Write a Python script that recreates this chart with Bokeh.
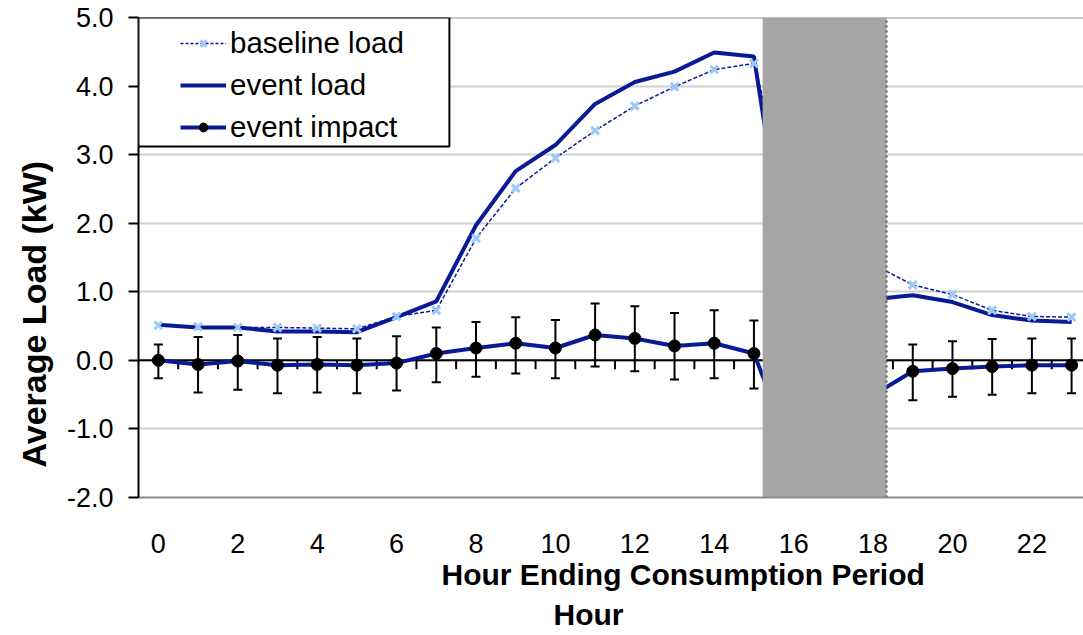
from bokeh.plotting import figure
from bokeh.models import (Range1d, FixedTicker, PrintfTickFormatter, Span, BoxAnnotation,
                          Legend, LegendItem, Title)
from bokeh.embed import file_html
from bokeh.resources import INLINE

# ---------------- data ----------------
hours = list(range(24))
baseline_load = [0.51, 0.49, 0.48, 0.48, 0.47, 0.46, 0.64, 0.73, 1.78, 2.51, 2.95, 3.35,
                 3.71, 3.99, 4.24, 4.33, 2.10, 1.60, 1.40, 1.10, 0.96, 0.73, 0.64, 0.63]
event_load = [0.52, 0.48, 0.48, 0.42, 0.42, 0.41, 0.63, 0.86, 1.97, 2.76, 3.14, 3.74,
              4.06, 4.21, 4.49, 4.43, 0.70, 0.80, 0.89, 0.95, 0.85, 0.66, 0.58, 0.56]
event_impact = [0.00, -0.06, -0.01, -0.07, -0.06, -0.07, -0.04, 0.10, 0.18, 0.25, 0.18, 0.37,
                0.32, 0.21, 0.25, 0.10, -1.40, -0.80, -0.51, -0.16, -0.12, -0.09, -0.07, -0.07]
impact_upper = [0.23, 0.34, 0.37, 0.32, 0.34, 0.32, 0.35, 0.48, 0.56, 0.63, 0.59, 0.83,
                0.79, 0.69, 0.73, 0.58, -1.00, -0.40, -0.10, 0.23, 0.28, 0.31, 0.32, 0.32]
impact_lower = [-0.26, -0.47, -0.43, -0.48, -0.47, -0.48, -0.44, -0.32, -0.24, -0.19, -0.26, -0.09,
                -0.16, -0.28, -0.26, -0.41, -1.80, -1.20, -0.92, -0.58, -0.53, -0.50, -0.48, -0.48]
x_tick_hours = list(range(0, 23, 2))
y_ticks = [-2, -1, 0, 1, 2, 3, 4, 5]
event_window = [15.22, 18.34]          # shaded event period (hours)
hour_boundaries = [h + 0.5 for h in hours[:-1]]

NAVY = "#0a1a96"
FONT = "Liberation Sans"
NAN = float("nan")

p = figure(width=1083, height=635, x_range=Range1d(-0.5, 23.3), y_range=Range1d(-2, 5),
           output_backend="svg", toolbar_location=None,
           min_border_left=138, min_border_right=0, min_border_top=17, min_border_bottom=138)
p.outline_line_color = None
p.xgrid.visible = False
p.ygrid.ticker = FixedTicker(ticks=y_ticks)
p.ygrid.grid_line_color = "#d0d0d0"
p.ygrid.grid_line_width = 2

ya = p.yaxis[0]
ya.ticker = FixedTicker(ticks=y_ticks)
ya.formatter = PrintfTickFormatter(format="%.1f")
ya.axis_line_color = "black"
ya.axis_line_width = 2
ya.major_tick_line_color = "black"
ya.major_tick_line_width = 2
ya.major_tick_out = 10
ya.major_tick_in = 0
ya.minor_tick_line_color = None
ya.major_label_text_font = FONT
ya.major_label_text_font_size = "27px"
ya.major_label_text_color = "black"
ya.major_label_standoff = 15

xa = p.xaxis[0]
xa.ticker = FixedTicker(ticks=x_tick_hours)
xa.axis_line_color = "#8c8c8c"
xa.axis_line_width = 2
xa.major_tick_line_color = None
xa.major_tick_out = 0
xa.major_tick_in = 0
xa.minor_tick_line_color = None
xa.major_label_text_font = FONT
xa.major_label_text_font_size = "27px"
xa.major_label_text_color = "black"
xa.major_label_standoff = 36

p.add_layout(Span(location=5, dimension="width", line_color="#8c8c8c", line_width=2, level="underlay"))
p.add_layout(Span(location=0, dimension="width", line_color="black", line_width=2, level="underlay"))
p.segment(x0=hour_boundaries, y0=[0] * len(hour_boundaries), x1=hour_boundaries,
          y1=[-0.13] * len(hour_boundaries), line_color="black", line_width=2)

p.line(hours, event_load, line_color=NAVY, line_width=4)
p.line(hours, baseline_load, line_color=NAVY, line_width=1.5, line_dash="4 2")
p.scatter(hours, baseline_load, marker="x", size=11, line_color="#9cc9f5", line_width=3)
p.line(hours, event_impact, line_color=NAVY, line_width=4)
p.segment(x0=hours, y0=impact_lower, x1=hours, y1=impact_upper, line_color="black", line_width=2)
p.scatter(hours, impact_upper, marker="dash", size=9, line_color="black", line_width=2)
p.scatter(hours, impact_lower, marker="dash", size=9, line_color="black", line_width=2)
p.scatter(hours, event_impact, marker="circle", size=12, fill_color="black", line_color="black")

p.quad(left=[event_window[0]], right=[event_window[1]], bottom=[-2], top=[5],
       fill_color="#a6a6a6", line_color=None)
p.segment(x0=[event_window[1]], y0=[-2], x1=[event_window[1]], y1=[5],
          line_color="#555555", line_width=2, line_dash="2 3")

# legend proxies (NaN data: nothing drawn in the plot, only the legend swatches)
lg_base_line = p.line([NAN], [NAN], line_color=NAVY, line_width=1.5, line_dash="3 2")
lg_base_mk = p.scatter([NAN], [NAN], marker="x", size=9, line_color="#9cc9f5", line_width=3)
lg_event = p.line([NAN], [NAN], line_color=NAVY, line_width=4)
lg_imp_line = p.line([NAN], [NAN], line_color=NAVY, line_width=4)
lg_imp_mk = p.scatter([NAN], [NAN], marker="circle", size=9, fill_color="black", line_color="black")

p.add_layout(BoxAnnotation(left=-0.5, right=7.33, bottom=3.12, top=5.0, fill_color="white",
                           fill_alpha=1, line_color="black", line_alpha=1, line_width=2,
                           line_dash="solid"))
legend = Legend(items=[LegendItem(label="baseline load", renderers=[lg_base_line, lg_base_mk]),
                       LegendItem(label="event load", renderers=[lg_event]),
                       LegendItem(label="event impact", renderers=[lg_imp_line, lg_imp_mk])],
                location=(42, 349), padding=0, spacing=0, margin=0,
                glyph_width=46, glyph_height=22, label_height=42, label_standoff=4,
                border_line_color=None, background_fill_alpha=0,
                label_text_font=FONT, label_text_font_size="29.5px", label_text_color="black")
p.add_layout(legend, "center")

p.add_layout(Title(text="Hour Ending Consumption Period", align="left", offset=303, standoff=0,
                   text_font=FONT, text_font_size="30px", text_font_style="bold",
                   text_color="black"), "below")
p.add_layout(Title(text="Hour", align="left", offset=415, standoff=10,
                   text_font=FONT, text_font_size="30px", text_font_style="bold",
                   text_color="black"), "below")
p.add_layout(Title(text="Average Load (kW)", align="left", offset=30, standoff=22,
                   text_font=FONT, text_font_size="34px", text_font_style="bold",
                   text_color="black"), "left")

open("out.html", "w").write(file_html(p, INLINE))
